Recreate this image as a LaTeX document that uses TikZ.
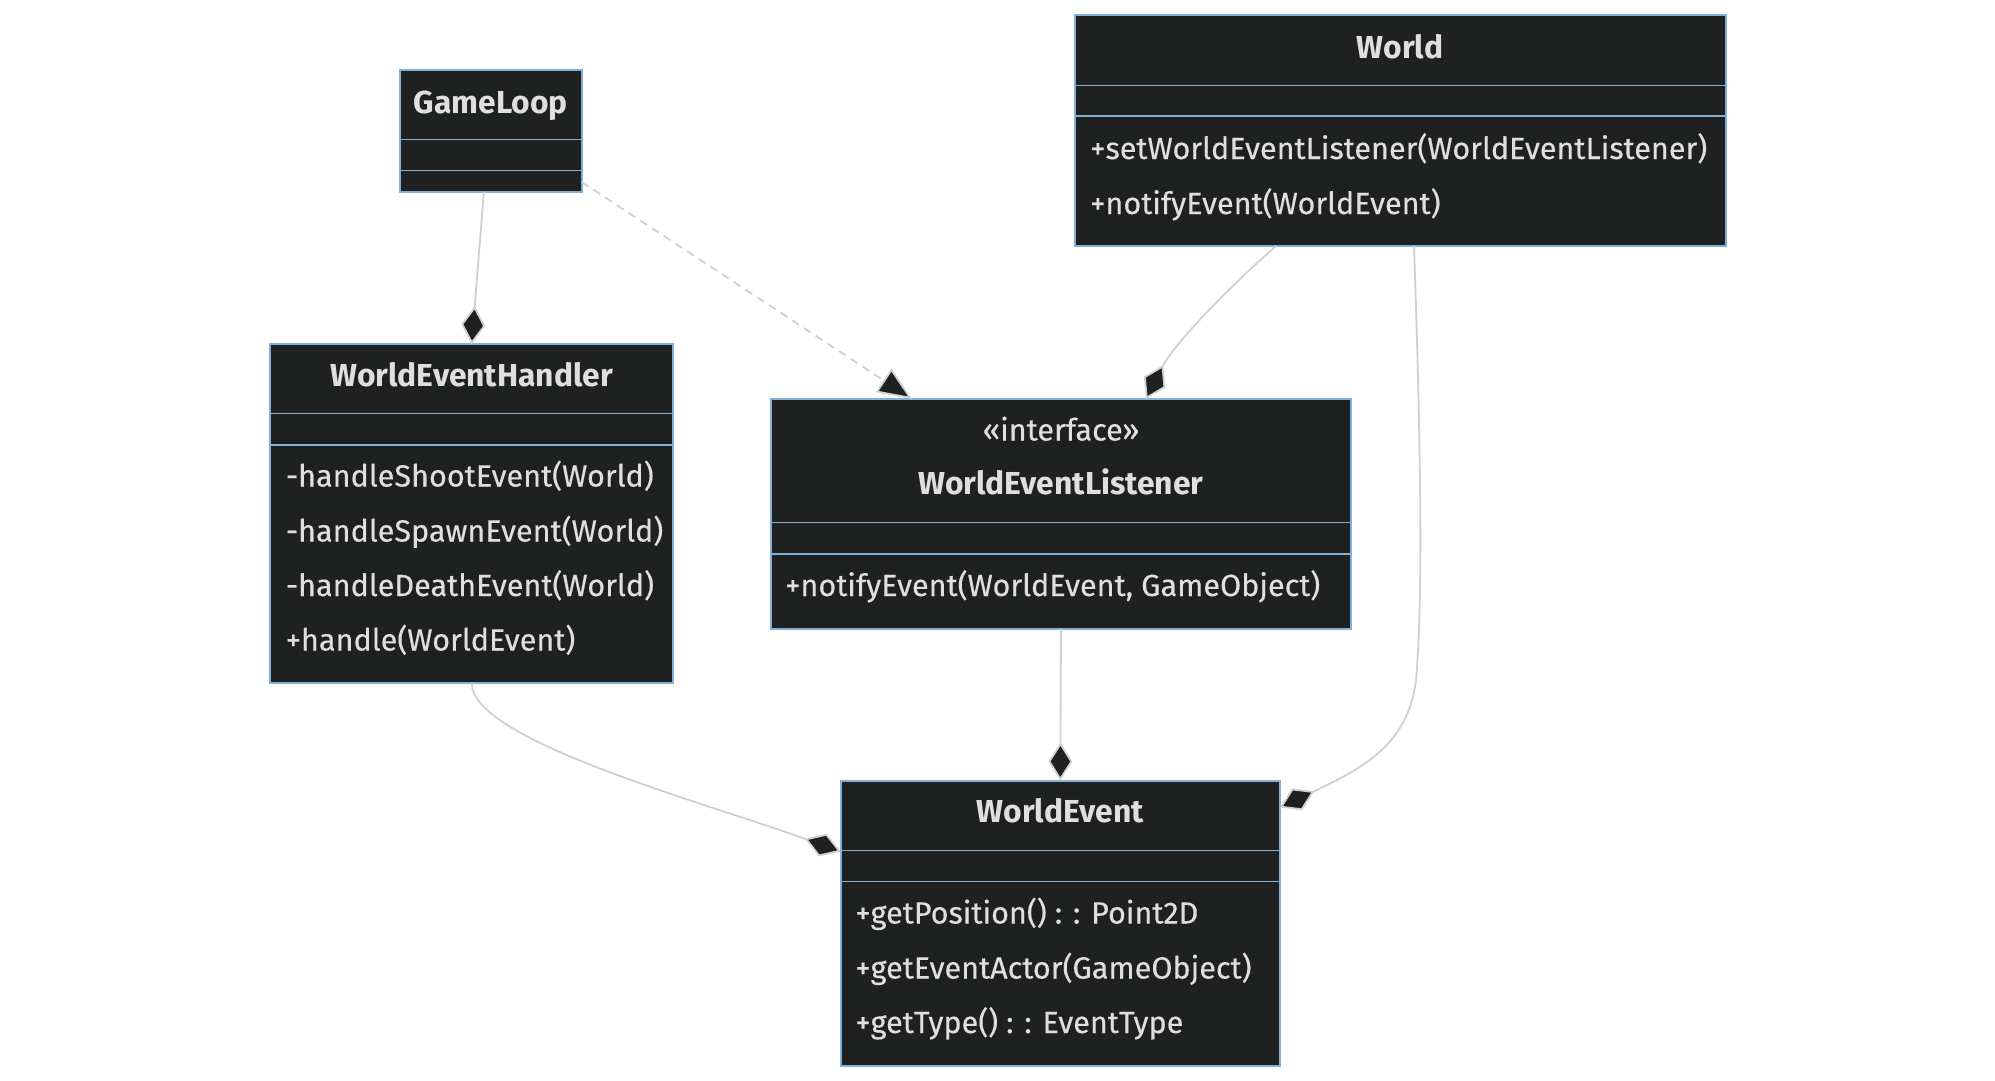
\documentclass[tikz,border=0pt]{standalone}
\usepackage{fontspec}
\setmainfont{Fira Sans}
\newfontfamily\memfont{Fira Sans}[FakeBold=0.3]
\usetikzlibrary{arrows.meta,calc}
\definecolor{boxbg}{RGB}{31,32,32}
\definecolor{boxborder}{RGB}{129,177,219}
\definecolor{txt}{RGB}{224,223,223}
\definecolor{edgecol}{RGB}{208,208,208}
\newcommand\umlfs{\fontsize{30.6}{36}\selectfont}
\newcommand\umlts{\fontsize{31.8}{38}\selectfont}
\begin{document}
\begin{tikzpicture}[x=1pt,y=-1pt,
  box/.style={draw=boxborder, line width=2pt, fill=boxbg, inner sep=0pt, outer sep=0pt},
  div/.style={draw=boxborder, line width=1.6pt},
  ttl/.style={text=txt, font=\umlts\bfseries, inner sep=0pt, anchor=center, text height=22pt, text depth=6pt},
  stereo/.style={text=txt, font=\umlfs\memfont, inner sep=0pt, anchor=center, text height=22pt, text depth=6pt},
  mem/.style={text=txt, font=\umlfs\memfont, inner sep=0pt, anchor=west, text height=22pt, text depth=6pt},
  conn/.style={draw=edgecol, line width=1.8pt},
  comp/.style={-{Diamond[fill=boxbg, length=38pt, width=24pt]}},
  realz/.style={dash pattern=on 8pt off 6pt, -{Triangle[fill=boxbg, length=34pt, width=28pt, line width=1.8pt]}}
]
\useasboundingbox[fill=white] (0,0) rectangle (1995,1080);

% ---- boxes ----
\node[box, minimum width=181.7pt, minimum height=122.5pt] (gl) at (490.85,130.75) {};
\node[box, minimum width=651pt, minimum height=231pt] (world) at (1400,130.5) {};
\node[box, minimum width=403.3pt, minimum height=339pt] (weh) at (471.7,513.5) {};
\node[box, minimum width=580pt, minimum height=230pt] (wel) at (1061,514) {};
\node[box, minimum width=439.3pt, minimum height=285pt] (we) at (1060.3,923) {};

% ---- dividers ----
\foreach \b/\da/\db in {gl/70/101, world/70.5/101, weh/69.5/101, we/70/101, wel/123.5/155} {
  \draw[div] ($(\b.north west)+(0,\da)$) -- ($(\b.north east)+(0,\da)$);
  \draw[div] ($(\b.north west)+(0,\db)$) -- ($(\b.north east)+(0,\db)$);
}

% ---- texts ----
\node[ttl] (gl-t) at ($(gl.north)+(0,35.5)$) {GameLoop};

\node[ttl] (world-t) at ($(world.north)+(0,35)$) {World};
\node[mem] (world-m1) at ($(world.north west)+(15.5,136)$) {+setWorldEventListener(WorldEventListener)};
\node[mem] (world-m2) at ($(world.north west)+(15.5,191)$) {+notifyEvent(WorldEvent)};

\node[ttl] (weh-t) at ($(weh.north)+(0,34.5)$) {WorldEventHandler};
\node[mem] (weh-m1) at ($(weh.north west)+(15.5,134.5)$) {-handleShootEvent(World)};
\node[mem] (weh-m2) at ($(weh.north west)+(15.5,189.5)$) {-handleSpawnEvent(World)};
\node[mem] (weh-m3) at ($(weh.north west)+(15.5,244)$) {-handleDeathEvent(World)};
\node[mem] (weh-m4) at ($(weh.north west)+(15.5,298.5)$) {+handle(WorldEvent)};

\node[stereo] (wel-s) at ($(wel.north)+(0,33.5)$) {«interface»};
\node[ttl] (wel-t) at ($(wel.north)+(0,87)$) {WorldEventListener};
\node[mem] (wel-m1) at ($(wel.north west)+(14,189)$) {+notifyEvent(WorldEvent, GameObject)};

\node[ttl] (we-t) at ($(we.north)+(0,34)$) {WorldEvent};
\node[mem] (we-m1) at ($(we.north west)+(14.5,135)$) {+getPosition() : : Point2D};
\node[mem] (we-m2) at ($(we.north west)+(14.5,190)$) {+getEventActor(GameObject)};
\node[mem] (we-m3) at ($(we.north west)+(14.5,244.5)$) {+getType() : : EventType};

% ---- connectors ----
\draw[conn, comp] ($(gl.south)+(-7,0)$) -- (weh.north);
\draw[conn, realz] ($(gl.south east)+(0,-10)$) -- ($(wel.north)+(-149,0)$);
\draw[conn, comp] ($(world.south)+(-124,0)$) .. controls (1227,289) and (1174,344) .. ($(wel.north)+(85,0)$);
\draw[conn, comp] ($(world.south)+(14,0)$) .. controls (1421,450) and (1423,600) .. (1416,680)
   .. controls (1408,745) and (1363,768) .. ($(we.north east)+(0,27)$);
\draw[conn, comp] (wel.south) -- (we.north);
\draw[conn, comp] (weh.south) .. controls (472,740) and (697,800) .. ($(we.north west)+(0,71)$);
\end{tikzpicture}
\end{document}
